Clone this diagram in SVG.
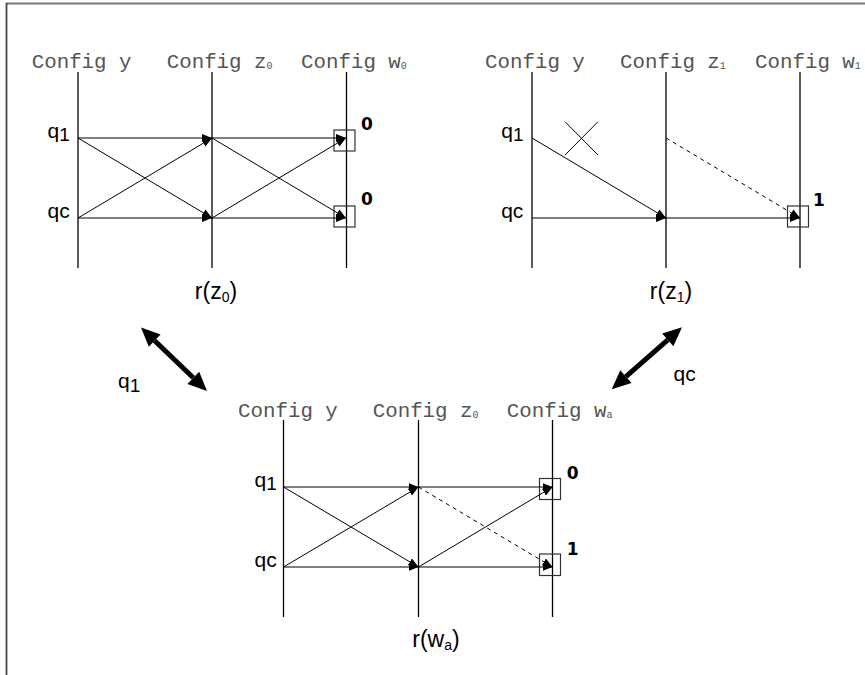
<svg xmlns="http://www.w3.org/2000/svg" width="865" height="675" viewBox="0 0 865 675">
<style>
.col{stroke:#000;stroke-width:1.3;fill:none}
.e{stroke:#000;stroke-width:1;fill:none}
.d{stroke:#000;stroke-width:1;fill:none;stroke-dasharray:4 4}
.box{stroke:#333;stroke-width:1.2;fill:none}
.cfg{font-family:"Liberation Mono","Courier New",monospace;font-size:20.8px;fill:#555}
.cfg .s{font-size:10px}
.q{font-family:"Liberation Sans",Arial,sans-serif;font-size:21px;fill:#000}
.q .s{font-size:19px}
.r{font-family:"Liberation Sans",Arial,sans-serif;font-size:23px;fill:#000}
.r .s{font-size:14px}
.v{font-family:"DejaVu Sans",sans-serif;font-size:17px;font-weight:bold;fill:#000}
.big{stroke:#000;stroke-width:5;fill:none}
.head{fill:#000}
</style>
<defs>
<marker id="ah" markerUnits="userSpaceOnUse" markerWidth="10" markerHeight="8" refX="10" refY="4" orient="auto">
<path d="M0,0 L10,4 L0,8 z" fill="#000"/>
</marker>
</defs>
<rect width="865" height="675" fill="#fff"/>
<g id="frame">
<line x1="6" y1="3.5" x2="865" y2="3.5" stroke="#777" stroke-width="2"/>
<line x1="6.5" y1="3" x2="6.5" y2="675" stroke="#444" stroke-width="1.8"/>
</g>

<g id="panel-r-z0">
<text class="cfg" x="31.7" y="68">Config y</text>
<text class="cfg" x="166.7" y="68">Config z<tspan class="s" dy="1">0</tspan></text>
<text class="cfg" x="301" y="68">Config w<tspan class="s" dy="1">0</tspan></text>
<line class="col" x1="78" y1="72" x2="78" y2="268"/>
<line class="col" x1="212" y1="72" x2="212" y2="268"/>
<line class="col" x1="346.5" y1="72" x2="346.5" y2="268"/>
<text class="q" x="47.5" y="137.5">q<tspan class="s" dy="3.5">1</tspan></text>
<text class="q" x="47.5" y="218">qc</text>
<rect class="box" x="334" y="130" width="21" height="21"/>
<rect class="box" x="334" y="206" width="21" height="21"/>
<text class="v" x="361" y="130">0</text>
<text class="v" x="361" y="205">0</text>
<text class="r" x="216" y="299" text-anchor="middle">r(z<tspan class="s" dy="3">0</tspan><tspan dy="-3">)</tspan></text>
</g>

<g id="panel-r-z1">
<text class="cfg" x="485" y="68">Config y</text>
<text class="cfg" x="620" y="68">Config z<tspan class="s" dy="1">1</tspan></text>
<text class="cfg" x="755" y="68">Config w<tspan class="s" dy="1">1</tspan></text>
<line class="col" x1="532" y1="72" x2="532" y2="268"/>
<line class="col" x1="666" y1="72" x2="666" y2="268"/>
<line class="col" x1="800" y1="72" x2="800" y2="268"/>
<text class="q" x="501.2" y="137.5">q<tspan class="s" dy="3.5">1</tspan></text>
<text class="q" x="501.2" y="218">qc</text>
<rect class="box" x="787.5" y="206" width="21" height="21"/>
<text class="v" x="813" y="205.5">1</text>
<line class="e" x1="565" y1="121.7" x2="598" y2="155"/>
<line class="e" x1="565" y1="155" x2="598" y2="121.7"/>
<text class="r" x="671" y="299" text-anchor="middle">r(z<tspan class="s" dy="3">1</tspan><tspan dy="-3">)</tspan></text>
</g>

<g id="panel-r-wa">
<text class="cfg" x="238" y="416.7">Config y</text>
<text class="cfg" x="372.7" y="416.7">Config z<tspan class="s" dy="1">0</tspan></text>
<text class="cfg" x="506.7" y="416.7">Config w<tspan class="s" dy="1">a</tspan></text>
<line class="col" x1="283.5" y1="420" x2="283.5" y2="617"/>
<line class="col" x1="418.5" y1="420" x2="418.5" y2="617"/>
<line class="col" x1="552.5" y1="420" x2="552.5" y2="617"/>
<text class="q" x="254.5" y="486.5">q<tspan class="s" dy="3.5">1</tspan></text>
<text class="q" x="254.5" y="567">qc</text>
<rect class="box" x="539.5" y="478.5" width="21" height="21"/>
<rect class="box" x="539.5" y="554" width="21" height="21.5"/>
<text class="v" x="566.7" y="479">0</text>
<text class="v" x="566.7" y="555">1</text>
<text class="r" x="436" y="647" text-anchor="middle">r(w<tspan class="s" dy="3">a</tspan><tspan dy="-3">)</tspan></text>
</g>

<g id="connectors">
<line class="e" x1="78" y1="138" x2="212" y2="138" marker-end="url(#ah)"/>
<line class="e" x1="78" y1="138" x2="212" y2="218" marker-end="url(#ah)"/>
<line class="e" x1="78" y1="218" x2="212" y2="138" marker-end="url(#ah)"/>
<line class="e" x1="78" y1="218" x2="212" y2="218" marker-end="url(#ah)"/>
<line class="e" x1="212" y1="138" x2="346" y2="138" marker-end="url(#ah)"/>
<line class="e" x1="212" y1="138" x2="346" y2="218" marker-end="url(#ah)"/>
<line class="e" x1="212" y1="218" x2="346" y2="138" marker-end="url(#ah)"/>
<line class="e" x1="212" y1="218" x2="346" y2="218" marker-end="url(#ah)"/>

<line class="e" x1="532" y1="138" x2="666" y2="218" marker-end="url(#ah)"/>
<line class="e" x1="532" y1="218" x2="666" y2="218" marker-end="url(#ah)"/>
<line class="e" x1="666" y1="218" x2="800" y2="218" marker-end="url(#ah)"/>
<line class="d" x1="666" y1="138" x2="800" y2="218" marker-end="url(#ah)"/>

<line class="e" x1="283.5" y1="487" x2="418.5" y2="487" marker-end="url(#ah)"/>
<line class="e" x1="283.5" y1="487" x2="418.5" y2="567" marker-end="url(#ah)"/>
<line class="e" x1="283.5" y1="567" x2="418.5" y2="487" marker-end="url(#ah)"/>
<line class="e" x1="283.5" y1="567" x2="418.5" y2="567" marker-end="url(#ah)"/>
<line class="e" x1="418.5" y1="487" x2="552.5" y2="487" marker-end="url(#ah)"/>
<line class="d" x1="418.5" y1="487" x2="552.5" y2="567" marker-end="url(#ah)"/>
<line class="e" x1="418.5" y1="567" x2="552.5" y2="487" marker-end="url(#ah)"/>
<line class="e" x1="418.5" y1="567" x2="552.5" y2="567" marker-end="url(#ah)"/>

<g id="arrow-q1">
<line class="big" x1="154.7" y1="340.7" x2="193.3" y2="377.8"/>
<polygon class="head" points="141,327.5 148.8,346.8 160.6,334.6"/>
<polygon class="head" points="207,391 187.4,383.9 199.2,371.7"/>
</g>
<g id="arrow-qc">
<line class="big" x1="667.8" y1="339.9" x2="625.9" y2="376.7"/>
<polygon class="head" points="682,327.3 662.2,333.5 673.4,346.3"/>
<polygon class="head" points="611.7,389.3 620.3,370.3 631.5,383.1"/>
</g>
</g>
<text class="q" x="118" y="388">q<tspan class="s" dy="3.5">1</tspan></text>
<text class="q" x="673.5" y="381">qc</text>
</svg>
